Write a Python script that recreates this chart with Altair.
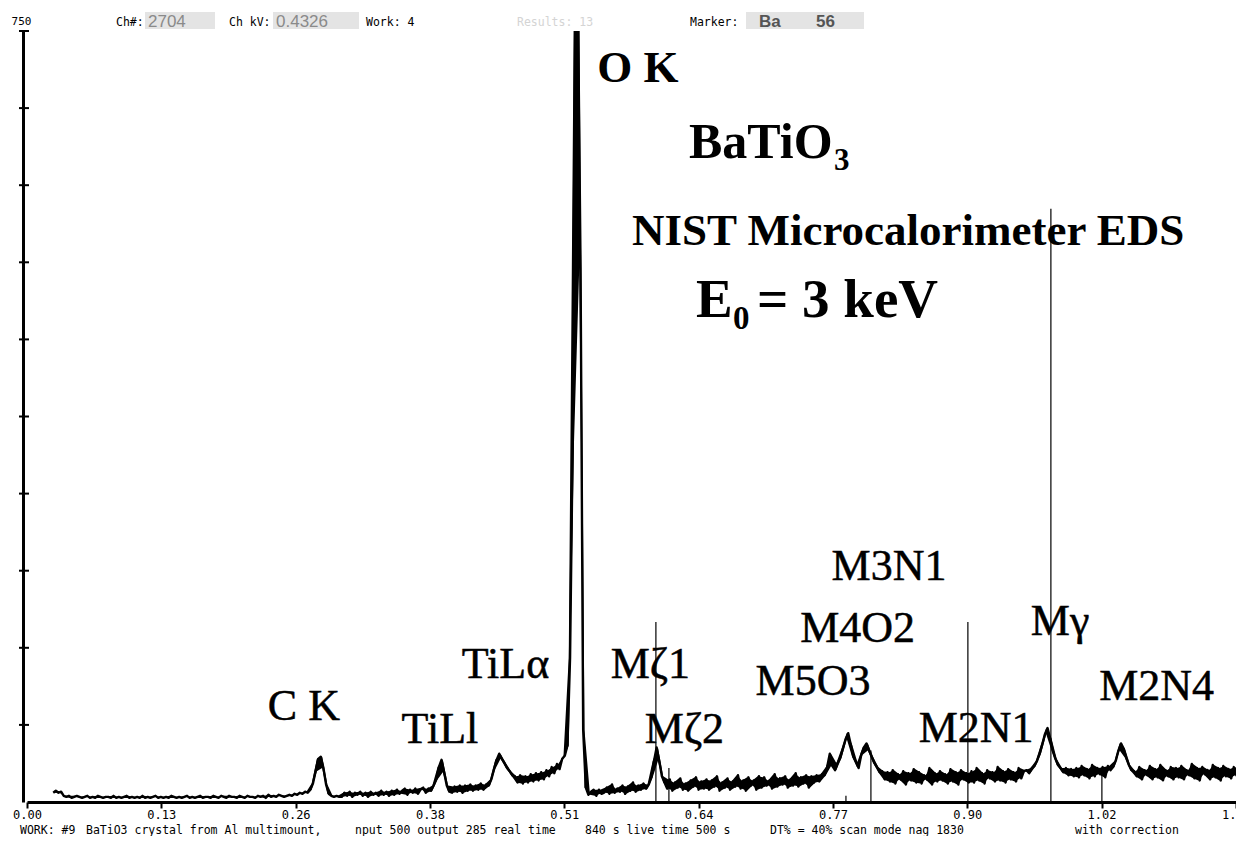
import altair as alt
import pandas as pd

# ---------------- data ----------------
# channel grid of the spectrum (keV): first channel and step
E_START = 0.025
E_STEP = 0.0025

# counts per channel, 0.025 ... 1.155 keV
counts = [
    9, 11, 9, 10, 6, 5, 6, 4, 5, 6,
    5, 4, 5, 6, 4, 5, 4, 6, 5, 4, 5, 5, 4, 6, 4, 5, 4, 5, 6, 4,
    5, 4, 5, 4, 6, 4, 5, 4, 5, 6, 4, 5, 4, 5, 4, 6, 5, 4, 5, 4,
    5, 6, 4, 5, 4, 5, 6, 4, 5, 5, 4, 6, 5, 4, 6, 5, 4, 6, 5, 5,
    4, 6, 5, 4, 6, 5, 5, 4, 6, 5, 6, 4, 7, 5, 6, 5, 7, 6, 5, 6,
    7, 6, 8, 7, 9, 8, 10, 9, 12, 18, 30, 42, 44, 33, 17, 8, 6, 5, 6, 5,
    5, 9, 6, 10, 5, 9, 7, 10, 6, 9, 5, 10, 7, 9, 6, 11, 7, 10, 6, 11,
    7, 12, 8, 11, 13, 7, 12, 9, 13, 8, 12, 14, 9, 13, 11, 16, 22, 34, 41, 29,
    16, 10, 9, 15, 10, 16, 9, 16, 11, 17, 11, 16, 12, 18, 12, 17, 16, 22, 32, 41,
    47, 42, 38, 33, 30, 26, 25, 19, 26, 18, 25, 19, 27, 20, 28, 21, 29, 22, 31, 25,
    34, 28, 37, 32, 42, 45, 55, 140, 350, 790, 780, 520, 70, 14, 7, 10, 12, 6, 12, 8,
    9, 14, 8, 17, 9, 13, 10, 16, 8, 15, 11, 19, 10, 16, 12, 18, 13, 17, 24, 40,
    53, 40, 25, 19, 13, 22, 11, 19, 14, 23, 12, 18, 11, 21, 15, 24, 12, 20, 13, 22,
    12, 21, 15, 25, 11, 19, 14, 23, 12, 20, 15, 26, 13, 21, 11, 24, 16, 21, 12, 25,
    14, 24, 16, 21, 13, 27, 15, 23, 17, 25, 14, 22, 16, 28, 15, 24, 18, 26, 14, 25,
    19, 26, 20, 27, 26, 34, 47, 35, 31, 38, 43, 52, 61, 67, 56, 44, 39, 33, 46, 53,
    57, 50, 44, 38, 34, 29, 30, 22, 29, 20, 31, 18, 27, 22, 30, 17, 28, 21, 32, 19,
    29, 18, 26, 22, 33, 17, 28, 20, 30, 21, 27, 18, 32, 20, 29, 17, 31, 22, 28, 19,
    30, 19, 33, 21, 28, 18, 31, 23, 29, 20, 34, 21, 30, 19, 32, 22, 29, 20, 33, 23,
    30, 31, 28, 33, 35, 40, 47, 56, 66, 72, 62, 50, 42, 36, 33, 29, 33, 26, 32, 25,
    33, 24, 35, 26, 32, 23, 36, 25, 33, 27, 34, 24, 35, 31, 34, 40, 50, 57, 52, 43,
    36, 31, 30, 25, 34, 22, 31, 26, 35, 22, 32, 24, 36, 21, 31, 25, 34, 22, 33, 24,
    35, 22, 31, 26, 37, 23, 33, 21, 34, 27, 31, 22, 36, 24, 33, 21, 35, 25, 32, 23, 34, 26, 31,
]
energies = [round(E_START + E_STEP * i, 4) for i in range(len(counts))]
channel_pair = [i // 2 for i in range(len(counts))]   # neighbouring channels, for the min/max band

# axis ticks
x_ticks = [0.0, 0.128, 0.256, 0.384, 0.512, 0.640, 0.768, 0.896, 1.024, 1.152]
y_ticks = [75, 150, 225, 300, 375, 450, 525, 600, 675, 750]

# Ba marker lines (keV, top count)
marker_keV = [0.5993, 0.6117, 0.7804, 0.8042, 0.8966, 0.9757, 1.0243]
marker_top = [175, 33, 6, 50, 175, 577, 30]

# peak labels (centre keV, baseline count)
peak_labels = ["C K", "TiLl", "TiLα", "Mζ1", "Mζ2", "M5O3", "M4O2", "M3N1", "M2N1", "Mγ", "M2N4"]
peak_label_keV = [0.2639, 0.3935, 0.4560, 0.5940, 0.6265, 0.7490, 0.7915, 0.8215, 0.9045, 0.9845, 1.0765]
peak_label_count = [79.8, 57.4, 120.6, 120.6, 57.4, 104.0, 155.6, 216.0, 58.4, 162.5, 99.2]

# bold titles (left keV, baseline count)
title_texts = ["O K", "NIST Microcalorimeter EDS"]
title_keV = [0.5435, 0.5765]
title_count = [700.4, 541.8]

formula_main = "BaTiO"
formula_sub = "3"
formula_keV = 0.6308
formula_count = 626.5

energy_main = "E"
energy_sub = "0"
energy_rest = "= 3 keV"
energy_keV = 0.6375
energy_count = 471.8

header_text = {
    "ch_label": "Ch#:", "ch_value": "2704",
    "kv_label": "Ch kV:", "kv_value": "0.4326",
    "work": "Work: 4", "results": "Results: 13",
    "marker_label": "Marker:", "marker_el": "Ba", "marker_z": "56",
}
footer_parts = [
    "WORK: #9",
    "BaTiO3 crystal from Al multimount,",
    "nput 500 output 285 real time",
    "840 s live time 500 s",
    "DT% = 40% scan mode nag 1830",
    "with correction",
]

# ---------------- chart ----------------
W, H = 1209, 771
X_MAX = 1.1521
MONO = "DejaVu Sans Mono"
SERIF = "Liberation Serif"
SANS = "Liberation Sans"

xs = alt.Scale(domain=[0, X_MAX], nice=False, zero=False)
ys = alt.Scale(domain=[0, 750], nice=False, zero=False)

spec = pd.DataFrame({"keV": energies, "count": counts, "pair": channel_pair})
one_row = pd.DataFrame({"a": [0]})

x_axis = alt.Axis(values=x_ticks, format=".2f", title=None, grid=False,
                  domainColor="black", domainWidth=3, tickColor="black",
                  tickWidth=2, tickSize=6, labelColor="black", labelFont=MONO,
                  labelFontSize=12, labelPadding=1, labelFlush=False,
                  labelOverlap=False)
y_axis = alt.Axis(values=[750], title=None, grid=False, offset=4,
                  domainColor="black", domainWidth=3, ticks=False,
                  labelColor="black", labelFont=MONO, labelFontSize=11,
                  labelAlign="center", labelBaseline="bottom", labelPadding=2,
                  labelOffset=-5, labelFlush=False)

line = alt.Chart(spec).mark_line(
    color="black", strokeWidth=2.4, clip=True, strokeJoin="round"
).encode(
    x=alt.X("keV:Q", scale=xs, axis=x_axis),
    y=alt.Y("count:Q", scale=ys, axis=y_axis),
)

# min/max band of neighbouring channels: gives the dense noisy trace
band = alt.Chart(spec).transform_aggregate(
    lo="min(count)", hi="max(count)", e="mean(keV)", groupby=["pair"]
).mark_area(color="black", clip=True).encode(
    x=alt.X("e:Q", scale=xs),
    y=alt.Y("lo:Q", scale=ys),
    y2="hi:Q",
)

markers = alt.Chart(pd.DataFrame({"keV": marker_keV, "top": marker_top})).mark_rule(
    color="black", strokeWidth=1.2
).encode(
    x=alt.X("keV:Q", scale=xs),
    y=alt.Y("top:Q", scale=ys),
    y2=alt.datum(0),
)

yticks = alt.Chart(pd.DataFrame({"v": y_ticks})).mark_rule(
    color="black", strokeWidth=2
).encode(
    y=alt.Y("v:Q", scale=ys),
    x=alt.value(-8),
    x2=alt.value(2),
)

peaks = alt.Chart(pd.DataFrame({"t": peak_labels, "keV": peak_label_keV, "c": peak_label_count})).mark_text(
    font=SERIF, fontSize=44, align="center", baseline="alphabetic", color="black",
    stroke="black", strokeWidth=0.5
).encode(
    x=alt.X("keV:Q", scale=xs),
    y=alt.Y("c:Q", scale=ys),
    text="t:N",
)

titles = alt.Chart(pd.DataFrame({"t": title_texts, "keV": title_keV, "c": title_count})).mark_text(
    font=SERIF, fontSize=45, fontWeight="bold", align="left", baseline="alphabetic", color="black"
).encode(
    x=alt.X("keV:Q", scale=xs),
    y=alt.Y("c:Q", scale=ys),
    text="t:N",
)


def anno(txt, keV, c, size, dx=0, dy=0):
    return alt.Chart(pd.DataFrame({"keV": [keV], "c": [c]})).mark_text(
        text=txt, font=SERIF, fontSize=size, fontWeight="bold", align="left",
        baseline="alphabetic", color="black", dx=dx, dy=dy
    ).encode(
        x=alt.X("keV:Q", scale=xs),
        y=alt.Y("c:Q", scale=ys),
    )


formula = [
    anno(formula_main, formula_keV, formula_count, 50),
    anno(formula_sub, formula_keV, formula_count, 31, dx=145, dy=12),
]
energy = [
    anno(energy_main, energy_keV, energy_count, 55),
    anno(energy_sub, energy_keV, energy_count, 33, dx=37, dy=12),
    anno(energy_rest, energy_keV, energy_count, 55, dx=61),
]


def ptext(txt, x, y, size=11.5, color="black", font=MONO, weight="normal"):
    return alt.Chart(one_row).mark_text(
        text=txt, align="left", baseline="alphabetic", font=font,
        fontSize=size, color=color, fontWeight=weight
    ).encode(x=alt.value(x), y=alt.value(y))


def pbox(x, x2, y, y2, color="#e4e4e4"):
    return alt.Chart(one_row).mark_rect(color=color).encode(
        x=alt.value(x), x2=alt.value(x2), y=alt.value(y), y2=alt.value(y2)
    )


header = [
    pbox(118, 188, -19, -2),
    pbox(246, 332, -19, -2),
    pbox(719, 837, -19, -2),
    ptext(header_text["ch_label"], 89, -5),
    ptext(header_text["ch_value"], 121, -4, size=17, color="#8a8a8a", font=SANS),
    ptext(header_text["kv_label"], 202, -5),
    ptext(header_text["kv_value"], 249, -4, size=17, color="#8a8a8a", font=SANS),
    ptext(header_text["work"], 339, -5),
    ptext(header_text["results"], 490, -5, color="#d4d4d4"),
    ptext(header_text["marker_label"], 663, -5),
    ptext(header_text["marker_el"], 732, -4, size=17, color="#555555", font=SANS, weight="bold"),
    ptext(header_text["marker_z"], 789, -4, size=17, color="#555555", font=SANS, weight="bold"),
]

footer_x = [-7, 59, 328, 558, 743, 1048]
footer = [ptext(t, fx, 803, size=11.5) for t, fx in zip(footer_parts, footer_x)]

chart = alt.layer(
    band, line, markers, yticks, peaks, titles, *formula, *energy, *header, *footer
).properties(
    width=W, height=H,
    autosize=alt.AutoSizeParams(type="none"),
    padding={"left": 19, "top": 23, "right": 0, "bottom": 34},
).configure(background="white").configure_view(strokeWidth=0)

chart.save("out.html", embed_options={"renderer": "svg", "actions": False})
